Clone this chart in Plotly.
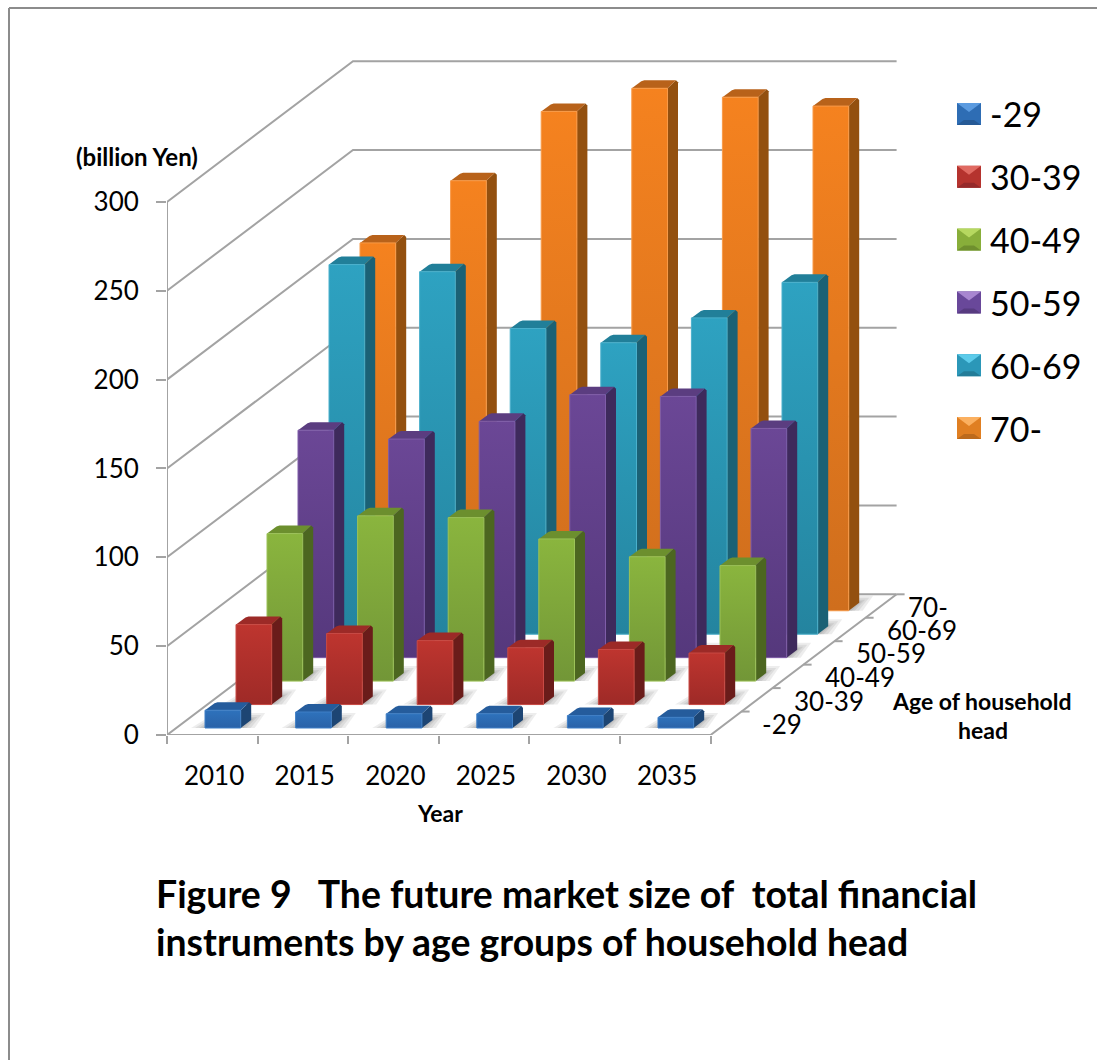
import plotly.graph_objects as go

# Market size in billion yen, by age band of the household head
YEARS = ["2010", "2015", "2020", "2025", "2030", "2035"]
AGE_GROUPS = ["-29", "30-39", "40-49", "50-59", "60-69", "70-"]
AGE_UNDER_30 = [10, 9, 8, 8, 7, 6]
AGE_30S = [45, 40, 36, 32, 31, 29]
AGE_40S = [83, 93, 92, 80, 70, 65]
AGE_50S = [128, 123, 133, 148, 147, 129]
AGE_60S = [208, 204, 172, 164, 178, 198]
AGE_70_PLUS = [207, 242, 281, 294, 289, 284]
SERIES = [AGE_UNDER_30, AGE_30S, AGE_40S, AGE_50S, AGE_60S, AGE_70_PLUS]
VALUE_TICKS = [0, 50, 100, 150, 200, 250, 300]

# (gradient top, gradient bottom, side face, top face, edge highlight)
PALETTE = [
    ("#2E72BC", "#2A62A8", "#1D4573", "#255C9C", "#3F7FC6"),
    ("#BE352F", "#9E2A27", "#6A1C1A", "#9C2A27", "#C84A44"),
    ("#8AB53E", "#729637", "#4C6620", "#6C8F2E", "#9CC258"),
    ("#6B4796", "#55387C", "#3E2A5C", "#5B3D80", "#7F5DA8"),
    ("#2EA2C1", "#24849F", "#1B6175", "#217F99", "#4AB0CC"),
    ("#F5821F", "#CF6E1D", "#93500F", "#B8621A", "#F89A48"),
]
LEGEND_SHADES = [
    ("#5B9BE0", "#2E6DB4", "#265A96"),
    ("#E06A62", "#B5332E", "#95292A"),
    ("#B6D860", "#88AE3A", "#6F8F2E"),
    ("#A886D0", "#69489A", "#573B80"),
    ("#5CCBEA", "#2B97B8", "#237C98"),
    ("#FBB060", "#E07F22", "#BC6A1C"),
]

# One x unit is one year slot and one y unit is a billion yen; the sizes below
# convert the oblique projection of the depth axis into those units.
PX_PER_COL = 90.6
PX_PER_VALUE = 1.777
LEFT_PX, BASE_PX = 167, 735
WIDTH, HEIGHT = 1097, 1060
PLOT_W = WIDTH - LEFT_PX


def ux(px):
    return px / PX_PER_COL


def uy(px):
    return px / PX_PER_VALUE


def at_x(px):
    return ux(px - LEFT_PX)


def at_y(px):
    return uy(BASE_PX - px)


def paper_x(px):
    return (px - LEFT_PX) / PLOT_W


def paper_y(px):
    return (BASE_PX - px) / BASE_PX


ROW_DX, ROW_DY = ux(31.0), uy(23.45)
DEPTH_DX, DEPTH_DY = ROW_DX * 6, ROW_DY * 6
BAR_LEFT, BAR_BASE = ux(38), uy(7)
BAR_W, BAR_DX, BAR_DY = ux(35.7), ux(10.5), uy(8)
CHAMFER_X, CHAMFER_Y = ux(2), uy(2)
GRID = "#A3A3A3"
COLS = len(YEARS)

fig = go.Figure()


def poly(xs, ys, color, **kw):
    fig.add_trace(go.Scatter(
        x=xs + xs[:1], y=ys + ys[:1], mode="lines", fill="toself", fillcolor=color,
        line=dict(width=0), hoverinfo="skip", showlegend=False, **kw))


def rule(xs, ys, width=2, color=GRID):
    fig.add_trace(go.Scatter(
        x=xs, y=ys, mode="lines", line=dict(color=color, width=width),
        hoverinfo="skip", showlegend=False, cliponaxis=False))


# Chart walls and floor
for v in VALUE_TICKS:
    rule([0, DEPTH_DX, COLS + DEPTH_DX], [v, v + DEPTH_DY, v + DEPTH_DY])
rule([0, 0], [0, 300])
rule([0, COLS, COLS + DEPTH_DX], [0, 0, DEPTH_DY])
for r in range(1, 7):
    rule([COLS + r * ROW_DX, COLS + r * ROW_DX + ux(8)], [r * ROW_DY, r * ROW_DY])

# Bars, painted from the back row forwards
for r in range(len(SERIES) - 1, -1, -1):
    top_c, bottom_c, side_c, lid_c, edge_c = PALETTE[r]
    for c, value in enumerate(SERIES[r]):
        x0 = c + BAR_LEFT + r * ROW_DX
        x1 = x0 + BAR_W
        y0 = BAR_BASE + r * ROW_DY
        y1 = y0 + value

        # Soft contact shadow on the floor
        for grow in (14, 10, 6, 3):
            g = ux(grow)
            poly([x0 - g, x1 + g, x1 + BAR_DX + g, x0 + BAR_DX],
                 [y0, y0, y0 + BAR_DY + uy(grow * 0.5), y0 + BAR_DY + uy(grow * 0.5)],
                 "rgba(0,0,0,0.07)")

        poly([x1, x1 + BAR_DX, x1 + BAR_DX, x1 + BAR_DX - CHAMFER_X, x1],
             [y0, y0 + BAR_DY, y1 + BAR_DY - CHAMFER_Y, y1 + BAR_DY, y1], side_c)
        poly([x0, x1, x1 + BAR_DX - CHAMFER_X, x0 + BAR_DX + CHAMFER_X, x0 + BAR_DX - CHAMFER_X * 0.5],
             [y1, y1, y1 + BAR_DY, y1 + BAR_DY, y1 + BAR_DY - CHAMFER_Y * 0.5], lid_c)
        fig.add_trace(go.Scatter(
            x=[x0, x1, x1, x0, x0], y=[y0, y0, y1, y1, y0], mode="lines",
            fill="toself",
            fillgradient=dict(type="vertical",
                              colorscale=[[0, bottom_c], [1, top_c]]),
            line=dict(color=edge_c, width=1),
            name=f"{AGE_GROUPS[r]} {YEARS[c]}",
            text=f"{AGE_GROUPS[r]}, {YEARS[c]}: {value}", hoverinfo="text",
            showlegend=False))

annotations = []


def label(px, py, text, size, bold=False, anchor="center"):
    annotations.append(dict(
        xref="paper", yref="paper", x=paper_x(px), y=paper_y(py),
        text=f"<b>{text}</b>" if bold else text,
        xanchor=anchor, yanchor="middle", showarrow=False,
        font=dict(family="Lato", size=size, color="#000000")))


# Colour key with bevelled swatches
KEY_LEFT, KEY_SIZE_X, KEY_SIZE_Y, KEY_BEVEL = 957, 24, 22, 7
for i, (name, (light, mid, dark)) in enumerate(zip(AGE_GROUPS, LEGEND_SHADES)):
    top = 103 + 62.8 * i
    l, rr = at_x(KEY_LEFT), at_x(KEY_LEFT + KEY_SIZE_X)
    t, b = at_y(top), at_y(top + KEY_SIZE_Y)
    cx = at_x(KEY_LEFT + KEY_SIZE_X / 2)
    cy = at_y(top + KEY_BEVEL + 2)
    inset = ux(KEY_BEVEL)
    poly([l, rr, rr, l], [b, b, t, t], mid)
    poly([l, rr, cx], [t, t, cy], light)
    poly([l, rr, rr - inset, l + inset], [b, b, b + uy(5), b + uy(5)], dark)
    label(988, top + 11, name, 34, anchor="left")

# Depth axis labels
for name, px, py in zip(AGE_GROUPS, [760, 792, 823, 854, 885, 906],
                        [724, 701, 677, 653, 630, 607]):
    label(px, py, name, 26, anchor="left")

label(137, 157, "(billion Yen)", 24, bold=True)
label(440, 813, "Year", 23, bold=True)
label(982, 701, "Age of household", 23, bold=True)
label(983, 730, "head", 23, bold=True)
label(154, 893, "Figure 9&#160;&#160; The future market size of&#160; total financial", 37.4,
      bold=True, anchor="left")
label(154, 941, "instruments by age groups of household head", 37.4, bold=True, anchor="left")

fig.update_layout(
    width=WIDTH, height=HEIGHT, autosize=False,
    margin=dict(l=LEFT_PX, r=0, t=0, b=HEIGHT - BASE_PX, pad=0),
    paper_bgcolor="#FFFFFF", plot_bgcolor="#FFFFFF", showlegend=False,
    annotations=annotations,
    xaxis=dict(
        range=[0, ux(PLOT_W)], showgrid=False, zeroline=False, showline=False,
        tickmode="array", tickvals=[c + 0.52 for c in range(COLS)], ticktext=YEARS,
        ticks="", ticklabelstandoff=23,
        tickfont=dict(family="Lato", size=26, color="#000000"),
        minor=dict(tickmode="array", tickvals=list(range(COLS + 1)), ticks="outside",
                   ticklen=8, tickwidth=2, tickcolor=GRID, showgrid=False),
    ),
    yaxis=dict(
        range=[0, uy(BASE_PX)], showgrid=False, zeroline=False, showline=False,
        tickmode="array", tickvals=VALUE_TICKS, ticks="outside", ticklen=10,
        tickwidth=2, tickcolor=GRID, ticklabelstandoff=12,
        tickfont=dict(family="Lato", size=26, color="#000000"),
    ),
    # Page frame on the top and left edges
    shapes=[
        dict(type="line", xref="paper", yref="paper",
             x0=paper_x(9), x1=1, y0=paper_y(8), y1=paper_y(8),
             line=dict(color="#8C8C8C", width=2)),
        dict(type="line", xref="paper", yref="paper",
             x0=paper_x(9), x1=paper_x(9), y0=paper_y(8), y1=paper_y(HEIGHT),
             line=dict(color="#8C8C8C", width=2)),
    ],
)

fig.write_html("out.html", config=dict(displayModeBar=False))
